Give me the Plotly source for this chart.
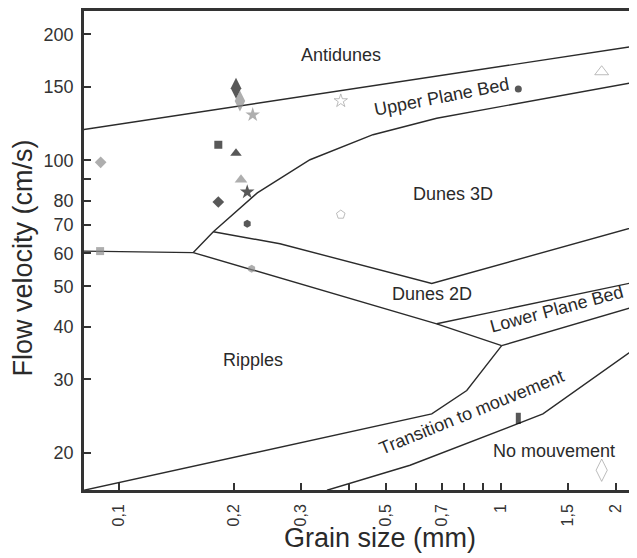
import plotly.graph_objects as go

# ---------------- data ----------------
# regime boundaries (grain size mm, velocity cm/s)
antidune_x = [0.0811, 2.275]
antidune_y = [118.4, 187.6]

upb_low_x = [0.1568, 0.1769, 0.2306, 0.3168, 0.4630, 0.680, 2.275]
upb_low_y = [60.2, 67.5, 83.6, 100.3, 115.1, 126.0, 154.0]

d2_up_x = [0.1769, 0.2644, 0.660, 2.275]
d2_up_y = [67.5, 63.2, 50.8, 69.6]

ripple_up_x = [0.0811, 0.1568, 0.680, 1.006]
ripple_up_y = [60.7, 60.2, 40.7, 36.1]

lpb_up_x = [0.680, 2.275]
lpb_up_y = [40.7, 51.3]

lpb_low_x = [1.006, 2.275]
lpb_low_y = [36.1, 44.9]

ripple_low_x = [1.006, 0.815, 0.660, 0.0811]
ripple_low_y = [36.1, 28.2, 24.8, 16.3]

nomove_x = [0.351, 0.579, 1.290, 2.275]
nomove_y = [16.3, 18.7, 24.8, 35.8]

# experimental points
pts_x = [0.0897, 0.0894, 0.2028, 0.2077, 0.2243, 0.1823, 0.2028, 0.2090, 0.2170,
         0.1823, 0.2170, 0.2229, 0.3814, 0.3814, 1.112, 1.838, 1.112, 1.838]
pts_y = [98.9, 60.7, 148.5, 138.6, 128.4, 108.9, 104.0, 89.9, 84.0,
         79.5, 70.5, 55.1, 138.6, 74.2, 148.0, 162.7, 24.2, 18.2]

x_tickvals = [0.1, 0.2, 0.3, 0.4, 0.5, 0.6, 0.7, 0.8, 0.9, 1, 1.5, 2]
x_ticktext = ["0,1", "0,2", "0,3", "", "0,5", "", "0,7", "", "", "1", "1,5", "2"]
y_tickvals = [20, 30, 40, 50, 60, 70, 80, 90, 100, 150, 200]
y_ticktext = ["20", "30", "40", "50", "60", "70", "80", "", "100", "150", "200"]

region_labels = ["Antidunes", "Upper Plane Bed", "Dunes 3D", "Dunes 2D",
                 "Lower Plane Bed", "Ripples", "Transition to mouvement", "No mouvement"]

# ---------------- styles ----------------
G = "#8c8c8c"
K = "#111111"
OPEN = "#a0a0a0"
pt_symbols = ["diamond", "square", "diamond-tall", "diamond-tall", "star", "square",
              "triangle-up", "triangle-up", "star", "diamond", "hexagon", "hexagon",
              "star-open", "pentagon-open", "circle", "triangle-up-open", "line-ns",
              "diamond-tall-open"]
pt_colors = [G, G, K, G, G, K, K, G, K, K, K, G, OPEN, OPEN, K, OPEN, K, OPEN]
pt_sizes = [9, 8, 15, 15, 11, 8, 10, 11, 11, 9, 8, 8, 10, 9, 7, 12, 8, 16]
pt_lw = [0, 0, 0, 0, 0, 0, 0, 0, 0, 0, 0, 0, 1, 1, 0, 1, 5, 1]

fig = go.Figure()
LC = "#2b2b2b"
for xs, ys in [(antidune_x, antidune_y), (upb_low_x, upb_low_y), (d2_up_x, d2_up_y),
               (ripple_up_x, ripple_up_y), (lpb_up_x, lpb_up_y), (lpb_low_x, lpb_low_y),
               (ripple_low_x, ripple_low_y), (nomove_x, nomove_y)]:
    fig.add_trace(go.Scatter(x=xs, y=ys, mode="lines",
                             line=dict(color=LC, width=1.4), hoverinfo="skip"))

fig.add_trace(go.Scatter(
    x=pts_x, y=pts_y, mode="markers",
    marker=dict(symbol=pt_symbols, color=pt_colors, size=pt_sizes,
                line=dict(color=pt_colors, width=pt_lw))))

# label positions (paper coords)
lab_pos = [(0.4656, 0.9085, 0), (0.6456, 0.8212, -11), (0.6673, 0.6175, 0),
           (0.6293, 0.4096, 0), (0.8553, 0.3784, -15), (0.3056, 0.2723, 0),
           (0.7016, 0.1622, -22), (0.8508, 0.0811, 0)]
annotations = []
for txt, (ax_, ay_, ang) in zip(region_labels, lab_pos):
    annotations.append(dict(text=txt, x=ax_, y=ay_, xref="paper", yref="paper",
                            showarrow=False, textangle=ang,
                            xanchor="center", yanchor="middle",
                            font=dict(size=18, color="#2a2a2a")))
annotations.append(dict(text="Flow velocity (cm/s)", x=-0.1112, y=0.4844,
                        xref="paper", yref="paper", showarrow=False, textangle=-90,
                        xanchor="center", yanchor="middle",
                        font=dict(size=27, color="#2a2a2a")))
annotations.append(dict(text="Grain size (mm)", x=0.5353, y=-0.0998,
                        xref="paper", yref="paper", showarrow=False,
                        xanchor="center", yanchor="middle",
                        font=dict(size=27, color="#2a2a2a")))

# page body adds an 8px offset, so the figure is 8px smaller than the window
fig.update_layout(
    width=629, height=550,
    margin=dict(l=76, r=0, t=1, b=68),
    paper_bgcolor="white", plot_bgcolor="white",
    showlegend=False,
    font=dict(family="Liberation Sans, Arial, sans-serif", color="#333333"),
    annotations=annotations,
)
fig.update_xaxes(type="log", range=[-1.0908, 0.3568],
                 tickvals=x_tickvals, ticktext=x_ticktext, tickangle=-90,
                 ticks="inside", ticklen=7, tickwidth=2, tickcolor="#333333",
                 ticklabelstandoff=5,
                 showline=True, linewidth=2.5, linecolor="#333333", mirror=True,
                 showgrid=False, zeroline=False, tickfont=dict(size=16))
fig.update_yaxes(type="log", range=[1.2128, 2.3564],
                 tickvals=y_tickvals, ticktext=y_ticktext,
                 ticks="inside", ticklen=7, tickwidth=2, tickcolor="#333333",
                 ticklabelstandoff=4,
                 showline=True, linewidth=2.5, linecolor="#333333", mirror=False,
                 showgrid=False, zeroline=False, tickfont=dict(size=18))

fig.write_html("out.html")
